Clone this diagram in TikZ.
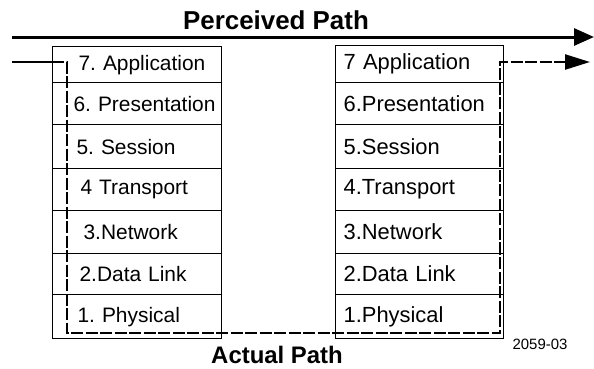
\documentclass[tikz,border=0pt]{standalone}
\usepackage{fontspec}
\setmainfont{Liberation Sans}
\usetikzlibrary{arrows.meta}
\frenchspacing
\tikzset{
  layerL/.style={draw, line width=1.2bp, anchor=north west, inner xsep=0pt, inner ysep=0pt,
     text width=169bp, minimum width=169bp, align=left, font=\fontsize{21}{23}\selectfont},
  layerR/.style={draw, line width=1.2bp, anchor=north west, inner xsep=0pt, inner ysep=0pt,
     text width=168bp, minimum width=168bp, align=left, font=\fontsize{22}{24}\selectfont},
  titletext/.style={font=\bfseries\fontsize{24}{26}\selectfont, inner sep=0pt},
  perceived/.style={line width=3bp, -{Triangle[length=20bp,width=17bp]}},
  actual/.style={line width=2.4bp, dash pattern=on 12bp off 2.5bp, -{Triangle[length=25bp,width=15bp]}},
}
\begin{document}
\begin{tikzpicture}[x=1bp,y=-1bp]
\useasboundingbox (0,0) rectangle (594,368);
% left stack
\node[layerL, minimum height=36bp] (L7) at (52,46) {\hspace*{26bp}7. Application};
\node[layerL, minimum height=42bp] (L6) at (52,82) {\hspace*{21bp}6. Presentation};
\node[layerL, minimum height=44bp] (L5) at (52,124) {\hspace*{24bp}5. Session};
\node[layerL, minimum height=42bp] (L4) at (52,168) {\hspace*{28bp}4 Transport};
\node[layerL, minimum height=43bp] (L3) at (52,210) {\hspace*{31bp}3.Network};
\node[layerL, minimum height=41bp] (L2) at (52,253) {\hspace*{27bp}2.Data Link};
\node[layerL, minimum height=44bp] (L1) at (52,294) {\hspace*{25bp}1. Physical};
% right stack
\node[layerR, minimum height=37bp] (R7) at (335,45) {\hspace*{8bp}7 Application};
\node[layerR, minimum height=42bp] (R6) at (335,82) {\hspace*{8bp}6.Presentation};
\node[layerR, minimum height=44bp] (R5) at (335,124) {\hspace*{8bp}5.Session};
\node[layerR, minimum height=42bp] (R4) at (335,168) {\hspace*{8bp}4.Transport};
\node[layerR, minimum height=43bp] (R3) at (335,210) {\hspace*{8bp}3.Network};
\node[layerR, minimum height=41bp] (R2) at (335,253) {\hspace*{8bp}2.Data Link};
\node[layerR, minimum height=44bp] (R1) at (335,294) {\hspace*{8bp}1.Physical};
% titles
\node[titletext, font=\bfseries\fontsize{26}{28}\selectfont, anchor=base] (ptitle) at (276,29) {Perceived Path};
\node[titletext, anchor=base] (atitle) at (277,363) {Actual Path};
\node[font=\fontsize{15}{17}\selectfont, inner sep=0pt] (fig) at (540,344) {2059-03};
% perceived path
\coordinate (pStart) at (12,37);
\coordinate (pEnd) at (594,37);
\draw[perceived] (pStart) -- (pEnd);
% actual path
\coordinate (aStart) at (12,62);
\coordinate (aSolid) at (52,62);
\coordinate (aDown) at (67,62);
\coordinate (aBotL) at (67,333);
\coordinate (aBotR) at (500,333);
\coordinate (aUp) at (500,62);
\coordinate (aEnd) at (590,62);
\draw[line width=2.4bp] (aStart) -- (aSolid);
\draw[actual] (aSolid) -- (aDown) -- (aBotL) -- (aBotR) -- (aUp) -- (aEnd);
\end{tikzpicture}
\end{document}
